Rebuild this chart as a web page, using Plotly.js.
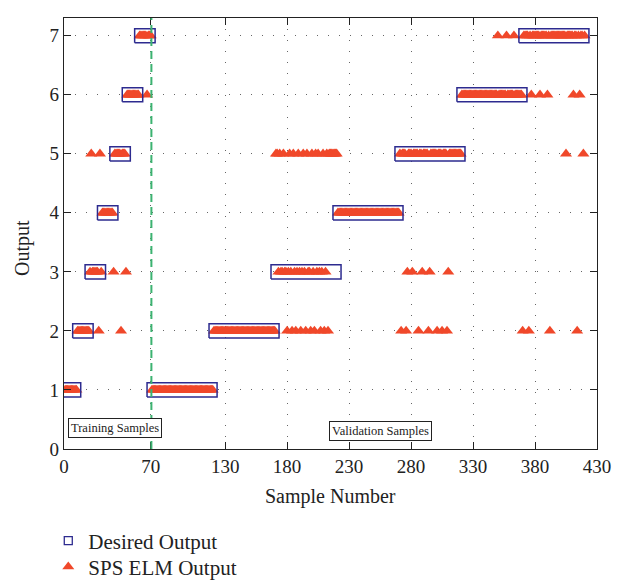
<!DOCTYPE html>
<html><head><meta charset="utf-8">
<script src="https://cdn.plot.ly/plotly-3.0.1.min.js"></script>
<style>html,body{margin:0;padding:0;background:#fff}#chart{width:627px;height:582px}</style>
</head><body><div id="chart"></div>
<script>
// ---- data ----
const xTickVals = [0, 70, 130, 180, 230, 280, 330, 380, 430];
const yTickVals = [0, 1, 2, 3, 4, 5, 6, 7];
// desired output: runs of constant class (sample start, sample end, class)
const desiredStart = [1, 11, 21, 31, 41, 51, 61, 71, 121, 171, 221, 271, 321, 371];
const desiredEnd   = [10, 20, 30, 40, 50, 60, 70, 120, 170, 220, 270, 320, 370, 420];
const desiredClass = [1, 2, 3, 4, 5, 6, 7, 1, 2, 3, 4, 5, 6, 7];
// SPS ELM output for samples 1..420
const elmOutput = [
  1,1,1,1,1,1,1,1,1,1,
  2,2,2,2,2,2,2,2,2,2,
  3,5,3,3,3,3,3,2,5,3,
  4,4,4,4,4,4,4,4,4,3,
  5,5,5,5,5,2,5,5,5,3,
  6,6,6,6,6,6,6,6,6,6,
  7,7,7,7,7,7,6,7,7,7,
  1,1,1,1,1,1,1,1,1,1,
  1,1,1,1,1,1,1,1,1,1,
  1,1,1,1,1,1,1,1,1,1,
  1,1,1,1,1,1,1,1,1,1,
  1,1,1,1,1,1,1,1,1,1,
  2,2,2,2,2,2,2,2,2,2,
  2,2,2,2,2,2,2,2,2,2,
  2,2,2,2,2,2,2,2,2,2,
  2,2,2,2,2,2,2,2,2,2,
  2,2,2,2,2,2,2,2,2,2,
  5,5,3,5,3,3,5,3,3,2,
  3,5,3,2,5,3,2,3,5,3,
  2,3,5,3,2,5,3,3,2,5,
  3,2,5,3,5,3,2,3,5,2,
  3,5,2,5,5,5,5,5,5,5,
  4,4,4,4,4,4,4,4,4,4,
  4,4,4,4,4,4,4,4,4,4,
  4,4,4,4,4,4,4,4,4,4,
  4,4,4,4,4,4,4,4,4,4,
  4,4,4,4,4,4,4,4,4,4,
  5,2,5,5,5,2,3,5,5,5,
  3,5,5,5,5,2,5,5,3,5,
  5,5,5,2,3,5,5,5,5,5,
  2,5,5,5,2,5,5,5,2,3,
  5,5,5,5,5,5,5,5,5,5,
  6,6,6,6,6,6,6,6,6,6,
  6,6,6,6,6,6,6,6,6,6,
  6,6,6,6,6,6,6,6,6,7,
  6,6,6,6,6,6,7,6,6,6,
  6,6,7,6,6,6,6,6,6,2,
  7,7,7,7,2,7,6,7,7,7,
  7,7,7,6,7,7,7,7,7,6,
  7,2,7,7,7,7,7,7,7,7,
  7,7,7,7,5,7,7,7,7,7,
  6,7,7,2,7,6,7,7,5,7
];
const splitSample = 70.5;
const xTitle = 'Sample Number';
const yTitle = 'Output';

// ---- drawing ----
const FONT = '"Liberation Serif", "DejaVu Serif", serif';
const INK = '#222';
const BLUE = '#2d2b8f';
const RED = '#f0482a';
const sampleNumbers = elmOutput.map((_, i) => i + 1);

const boxPadL = 4, boxPadR = 3.5, boxHalfH = 0.12;
const bx = [], by = [];
desiredStart.forEach((s, i) => {
  const e = desiredEnd[i], c = desiredClass[i];
  bx.push(s - boxPadL, e + boxPadR, e + boxPadR, s - boxPadL, s - boxPadL, null);
  by.push(c - boxHalfH, c - boxHalfH, c + boxHalfH, c + boxHalfH, c - boxHalfH, null);
});

const traces = [
  {x: sampleNumbers, y: elmOutput, type: 'scatter', mode: 'markers', name: 'SPS ELM Output',
   legend: 'legend2', cliponaxis: true,
   marker: {symbol: 'triangle-up', size: 10.5, color: RED, line: {width: 0}}},
  {x: bx, y: by, type: 'scatter', mode: 'lines', showlegend: false, hoverinfo: 'skip',
   line: {color: BLUE, width: 1.5}},
  {x: [null], y: [null], type: 'scatter', mode: 'markers', name: 'Desired Output', legend: 'legend',
   marker: {symbol: 'square-open', size: 8, color: BLUE, line: {width: 1.3, color: BLUE}}}
];

const axisCommon = {
  ticks: 'inside', ticklen: 7, tickcolor: INK, tickwidth: 1,
  showline: true, linecolor: INK, linewidth: 1.2, mirror: 'ticks',
  showgrid: true, gridcolor: '#666', griddash: '1px,10px', gridwidth: 1,
  zeroline: false, tickfont: {family: FONT, size: 19, color: INK}
};

const legendCommon = {xref: 'container', yref: 'container', x: 0.077, xanchor: 'left', yanchor: 'middle',
  orientation: 'v', font: {family: FONT, size: 21, color: INK}, bgcolor: 'rgba(0,0,0,0)'};

const layout = {
  width: 627, height: 582,
  margin: {l: 64, r: 30, t: 18, b: 133, autoexpand: false},
  paper_bgcolor: '#fff', plot_bgcolor: '#fff',
  font: {family: FONT, color: INK},
  xaxis: Object.assign({}, axisCommon, {
    range: [0, 430], tickvals: xTickVals, ticktext: xTickVals.map(String)
  }),
  yaxis: Object.assign({}, axisCommon, {
    range: [0, 7.3], tickvals: yTickVals, ticktext: yTickVals.map(String)
  }),
  showlegend: true,
  legend: Object.assign({}, legendCommon, {y: 1 - 541 / 582}),
  legend2: Object.assign({}, legendCommon, {y: 1 - 567 / 582}),
  shapes: [{type: 'line', xref: 'x', yref: 'paper', x0: splitSample, x1: splitSample, y0: 0, y1: 1,
            line: {color: '#3cb371', width: 2, dash: '8px,5px'}}],
  annotations: [
    {x: 0.5, y: -0.111, xref: 'paper', yref: 'paper', text: xTitle, showarrow: false,
     xanchor: 'center', yanchor: 'middle', font: {family: FONT, size: 20, color: INK}},
    {x: -0.079, y: 0.466, xref: 'paper', yref: 'paper', text: yTitle, showarrow: false, textangle: -90,
     xanchor: 'center', yanchor: 'middle', font: {family: FONT, size: 20, color: INK}},
    {x: 40.8, y: 0.356, xref: 'x', yref: 'y', text: 'Training Samples', showarrow: false,
     bordercolor: INK, borderwidth: 1, borderpad: 2, bgcolor: '#fff',
     font: {family: FONT, size: 12.5, color: INK}},
    {x: 255, y: 0.31, xref: 'x', yref: 'y', text: 'Validation Samples', showarrow: false,
     bordercolor: INK, borderwidth: 1, borderpad: 2, bgcolor: '#fff',
     font: {family: FONT, size: 12.5, color: INK}}
  ]
};

Plotly.newPlot('chart', traces, layout, {displayModeBar: false, staticPlot: true});
</script></body></html>
